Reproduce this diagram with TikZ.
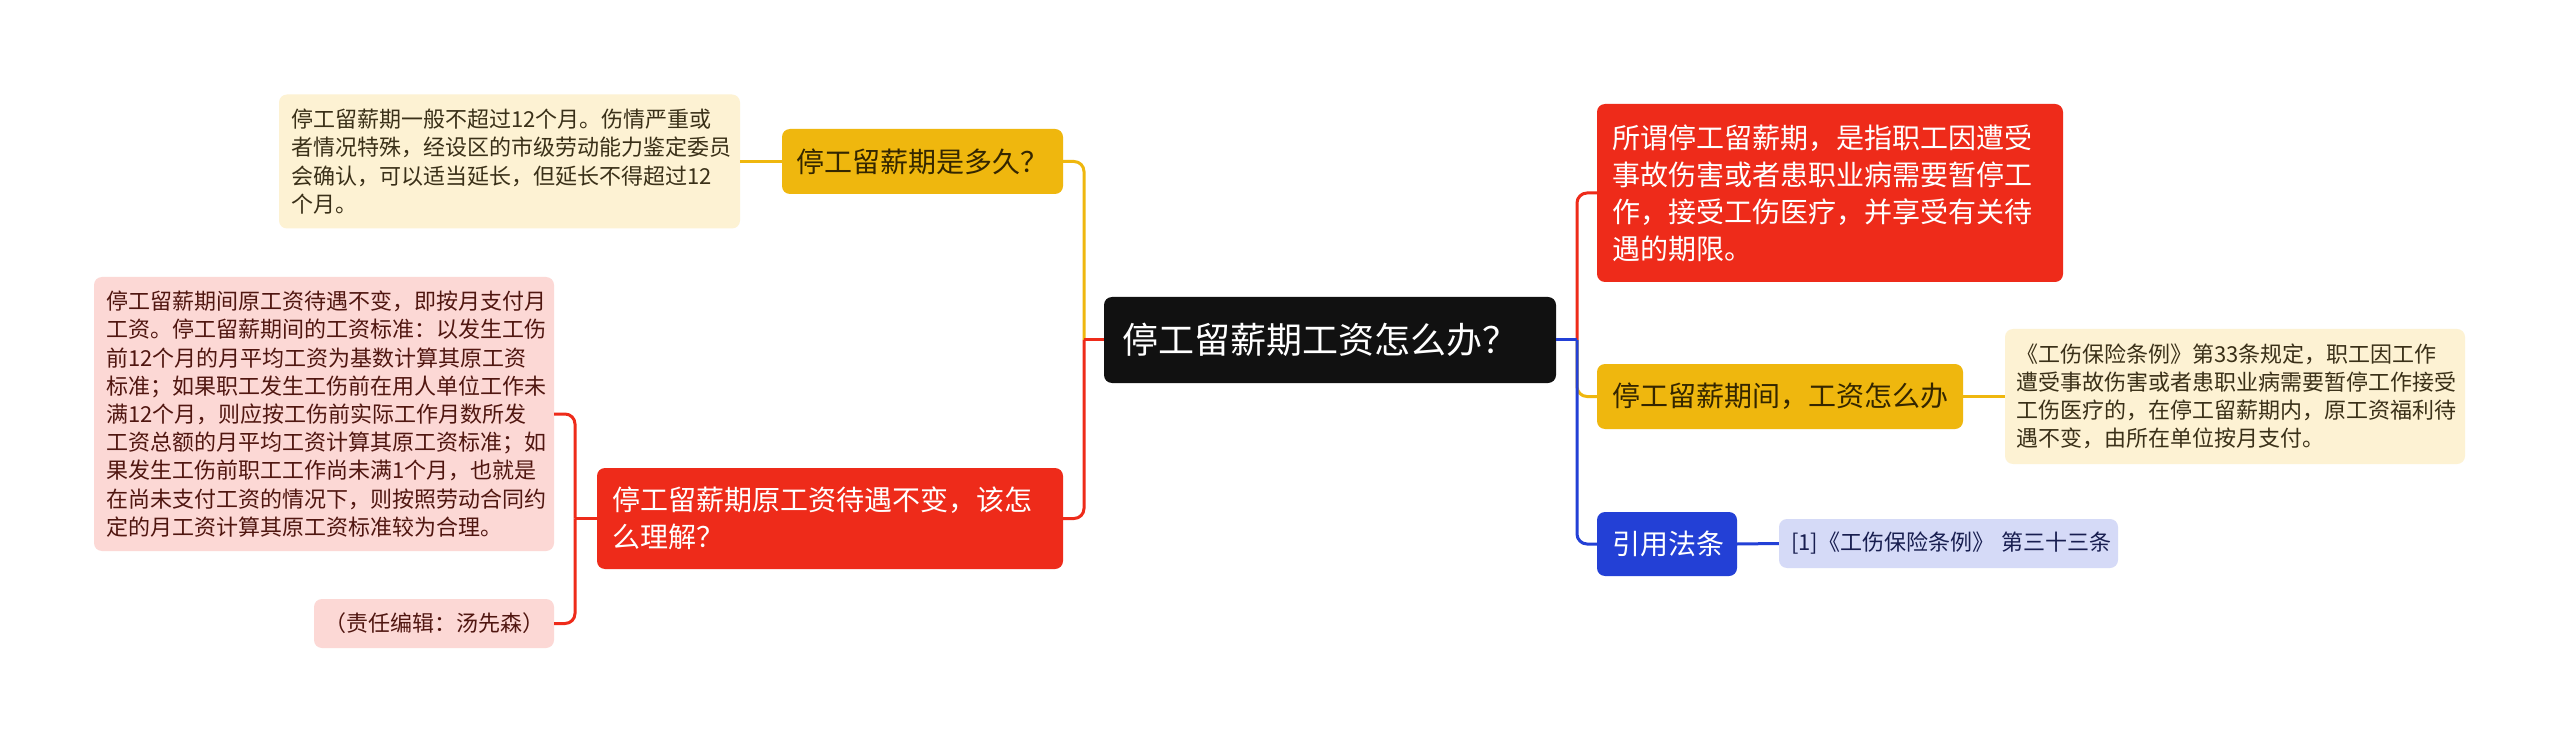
\documentclass[tikz,border=0pt]{standalone}
\usepackage{fontspec}
\setmainfont{Noto Sans CJK SC}
\definecolor{cyel}{RGB}{239,183,14}
\definecolor{cred}{RGB}{238,43,26}
\definecolor{cblue}{RGB}{35,64,214}
\definecolor{cpaley}{RGB}{253,242,211}
\definecolor{cpink}{RGB}{252,216,213}
\definecolor{clav}{RGB}{213,218,247}
\definecolor{croot}{RGB}{17,17,17}
\definecolor{tyel}{RGB}{52,38,0}
\definecolor{tpaley}{RGB}{58,48,24}
\definecolor{tpink}{RGB}{80,22,16}
\definecolor{tlav}{RGB}{24,30,80}
\tikzset{
  box/.style={rounded corners=8pt, inner ysep=0pt, align=left},
  link/.style={line width=3pt, rounded corners=10pt},
  fbig/.style={font=\fontsize{28}{37}\selectfont},
  fsmall/.style={font=\fontsize{22}{28.2}\selectfont},
}
\begin{document}
\begin{tikzpicture}[x=1pt,y=-1pt]
\fill[white] (0,0) rectangle (2560,743);
\useasboundingbox (0,0) rectangle (2560,743);

% root
\node[box, fill=croot, text=white, font=\fontsize{36}{40}\selectfont,
  minimum width=452pt, minimum height=86pt, inner xsep=18pt, text width=416pt]
  (root) at (1330,340) {停工留薪期工资怎么办？};

% left side
\node[box, fbig, fill=cyel, text=tyel, minimum width=281pt, minimum height=65pt,
  inner xsep=14pt, text width=253pt] (q1) at (922.5,161.5) {停工留薪期是多久？};
\node[box, fsmall, fill=cpaley, text=tpaley, minimum width=461pt, minimum height=134pt,
  inner xsep=12pt, text width=437pt] (a1) at (509.5,161.5)
  {停工留薪期一般不超过12个月。伤情严重或\\者情况特殊，经设区的市级劳动能力鉴定委员\\会确认，可以适当延长，但延长不得超过12\\个月。};
\node[box, fbig, fill=cred, text=white, minimum width=466pt, minimum height=101pt,
  inner xsep=15pt, text width=436pt] (q2) at (830,518.5)
  {停工留薪期原工资待遇不变，该怎\\么理解？};
\node[box, fsmall, fill=cpink, text=tpink, minimum width=460pt, minimum height=274pt,
  inner xsep=12pt, text width=436pt] (a2) at (324,414)
  {停工留薪期间原工资待遇不变，即按月支付月\\工资。停工留薪期间的工资标准：以发生工伤\\前12个月的月平均工资为基数计算其原工资\\标准；如果职工发生工伤前在用人单位工作未\\满12个月，则应按工伤前实际工作月数所发\\工资总额的月平均工资计算其原工资标准；如\\果发生工伤前职工工作尚未满1个月，也就是\\在尚未支付工资的情况下，则按照劳动合同约\\定的月工资计算其原工资标准较为合理。};
\node[box, fsmall, fill=cpink, text=tpink, minimum width=240pt, minimum height=49pt,
  inner xsep=10pt, align=center] (a3) at (434,623.5) {（责任编辑：汤先森）};

% right side
\node[box, fbig, fill=cred, text=white, minimum width=466pt, minimum height=178pt,
  inner xsep=15pt, text width=436pt] (r1) at (1830,193)
  {所谓停工留薪期，是指职工因遭受\\事故伤害或者患职业病需要暂停工\\作，接受工伤医疗，并享受有关待\\遇的期限。};
\node[box, fbig, fill=cyel, text=tyel, minimum width=366pt, minimum height=65pt,
  inner xsep=15pt, text width=336pt] (r2) at (1780,396.5) {停工留薪期间，工资怎么办};
\node[box, fsmall, fill=cpaley, text=tpaley, minimum width=460pt, minimum height=135pt,
  inner xsep=11pt, text width=438pt] (r2a) at (2235,396.5)
  {《工伤保险条例》第33条规定，职工因工作\\遭受事故伤害或者患职业病需要暂停工作接受\\工伤医疗的，在停工留薪期内，原工资福利待\\遇不变，由所在单位按月支付。};
\node[box, fbig, fill=cblue, text=white, minimum width=140pt, minimum height=64pt,
  inner xsep=15pt, text width=110pt] (r3) at (1667,544) {引用法条};
\node[box, fsmall, fill=clav, text=tlav, minimum width=339pt, minimum height=49pt,
  inner xsep=12pt, text width=315pt] (r3a) at (1948.5,543.5) {\mbox{[1]《工伤保险条例》 第三十三条}};

% junction coordinates
\coordinate (lt) at (1084,340);
\coordinate (rt) at (1577,340);
\coordinate (qt) at (575,518.5);

% connectors left
\draw[link, cyel] (lt) |- (q1.east);
\draw[link, cred] (lt) |- (q2.east);
\draw[link, cred] (root.west) -- (lt);
\draw[link, cyel] (q1.west) -- (q1.west -| a1.east);
\draw[link, cred] (q2.west) -- (qt);
\draw[link, cred] (qt) |- (a2.east);
\draw[link, cred] (qt) |- (a3.east);

% connectors right
\draw[link, cred] (rt) |- (r1.west);
\draw[link, cyel] (rt) |- (r2.west);
\draw[link, cblue] (rt) |- (r3.west);
\draw[link, cblue] (root.east) -- (rt);
\draw[link, cyel] (r2.east) -- (r2a.west);
\draw[link, cblue] (r3.east) -- (r3a.west);
\end{tikzpicture}
\end{document}
